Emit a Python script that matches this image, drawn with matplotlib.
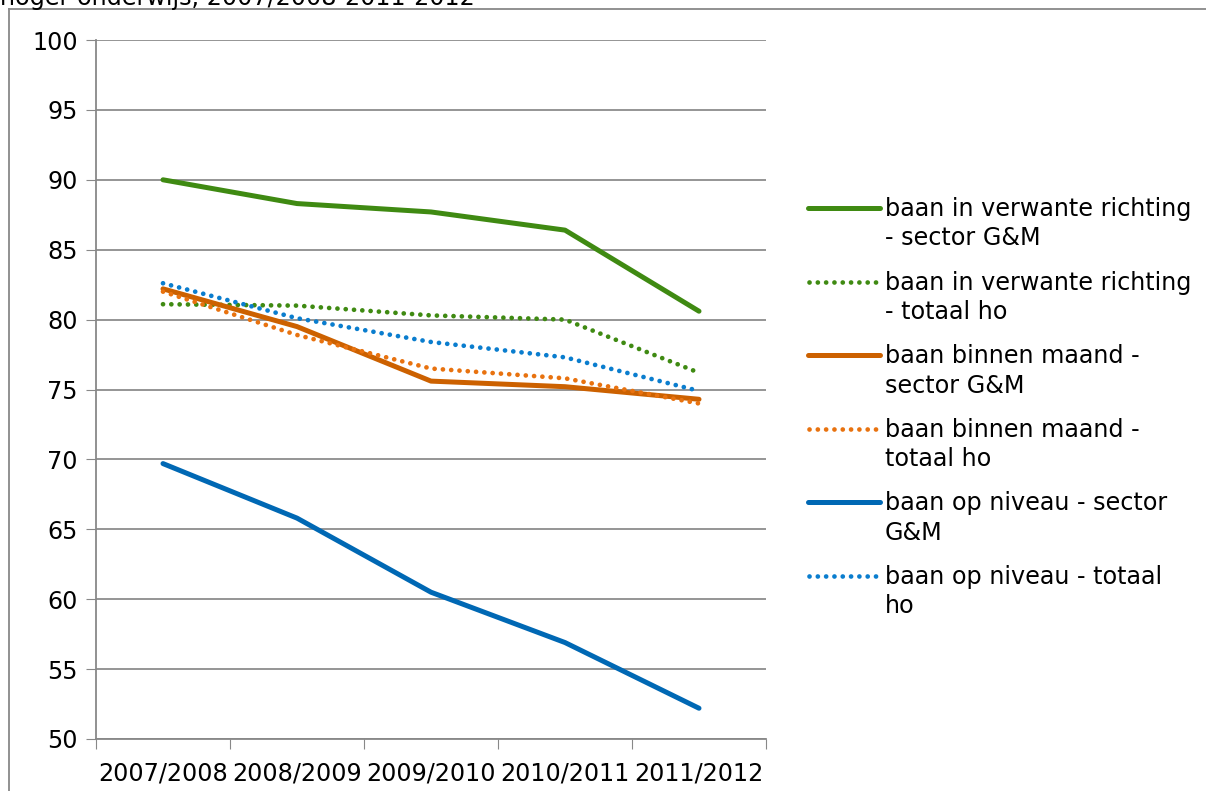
import matplotlib
matplotlib.use("Agg")
import matplotlib.pyplot as plt
from matplotlib.lines import Line2D

years = ["2007/2008", "2008/2009", "2009/2010", "2010/2011", "2011/2012"]

verwant_gm = [90.0, 88.3, 87.7, 86.4, 80.6]
verwant_ho = [81.1, 81.0, 80.3, 80.0, 76.2]
maand_gm = [82.2, 79.5, 75.6, 75.2, 74.3]
maand_ho = [82.0, 78.9, 76.5, 75.8, 74.0]
niveau_gm = [69.7, 65.8, 60.5, 56.9, 52.2]
niveau_ho = [82.6, 80.1, 78.4, 77.3, 74.9]

labels = ["baan in verwante richting\n- sector G&M",
          "baan in verwante richting\n- totaal ho",
          "baan binnen maand -\nsector G&M",
          "baan binnen maand -\ntotaal ho",
          "baan op niveau - sector\nG&M",
          "baan op niveau - totaal\nho"]

series = [verwant_gm, verwant_ho, maand_gm, maand_ho, niveau_gm, niveau_ho]
colors = ["#3F8A12", "#3F8A12", "#CC6100", "#E8720F", "#0068B4", "#0A7DCE"]
solid = [True, False, True, False, True, False]

plt.rcParams['font.family'] = ['DejaVu Sans']
fs = 17.2
dots = (0, (0.01, 1.75))

fig = plt.figure(figsize=(12.06, 7.91), dpi=100)
ax = fig.add_axes([96/1206, 1 - 739/791, (766-96)/1206, (739-40)/791])

x = list(range(len(years)))
for vals, c, s in zip(series, colors, solid):
    if s:
        ax.plot(x, vals, color=c, lw=3.6, solid_capstyle='round', zorder=3)
    else:
        ax.plot(x, vals, color=c, lw=3.4, linestyle=dots,
                dash_capstyle='round', zorder=3)

ax.set_xlim(-0.5, 4.5)
ax.set_ylim(50, 100)
ax.set_yticks(range(50, 101, 5))
ax.tick_params(axis='y', labelsize=fs, length=7, color='#888888', pad=6)
ax.set_xticks([i - 0.5 for i in range(6)])
ax.set_xticklabels([])
ax.set_xticks(x, minor=True)
ax.set_xticklabels(years, minor=True, fontsize=fs)
ax.tick_params(axis='x', which='major', length=7, color='#888888')
ax.tick_params(axis='x', which='minor', length=0, pad=16)
ax.grid(axis='y', color='#8c8c8c', lw=1.3, zorder=0)
ax.set_axisbelow(True)
for side in ['top', 'right']:
    ax.spines[side].set_visible(False)
for side in ['left', 'bottom']:
    ax.spines[side].set_color('#888888')
    ax.spines[side].set_linewidth(1.3)

# legend drawn by hand so the sample sits on the first text line
y0 = 1 - 208/791
step = 73.6/791
for i, (lab, c, s) in enumerate(zip(labels, colors, solid)):
    y = y0 - i*step
    if s:
        fig.add_artist(Line2D([808/1206, 880/1206], [y, y], color=c, lw=3.6,
                              solid_capstyle='round', transform=fig.transFigure))
    else:
        fig.add_artist(Line2D([809/1206, 880/1206], [y, y], color=c, lw=3.4,
                              linestyle=dots, dash_capstyle='round',
                              transform=fig.transFigure))
    fig.text(885/1206, y + 11/791, lab, fontsize=fs, va='top', ha='left',
             linespacing=1.28)

# chart frame and the cut-off title
fig.add_artist(Line2D([9/1206, 9/1206], [0, 1 - 9/791], color='#888888', lw=1.3,
                      transform=fig.transFigure))
fig.add_artist(Line2D([9/1206, 1], [1 - 9/791, 1 - 9/791], color='#888888', lw=1.3,
                      transform=fig.transFigure))
fig.text(0, 1 - 5/791, "hoger onderwijs, 2007/2008-2011-2012", fontsize=fs,
         va='baseline', ha='left')

fig.savefig("out.png", dpi=100)
